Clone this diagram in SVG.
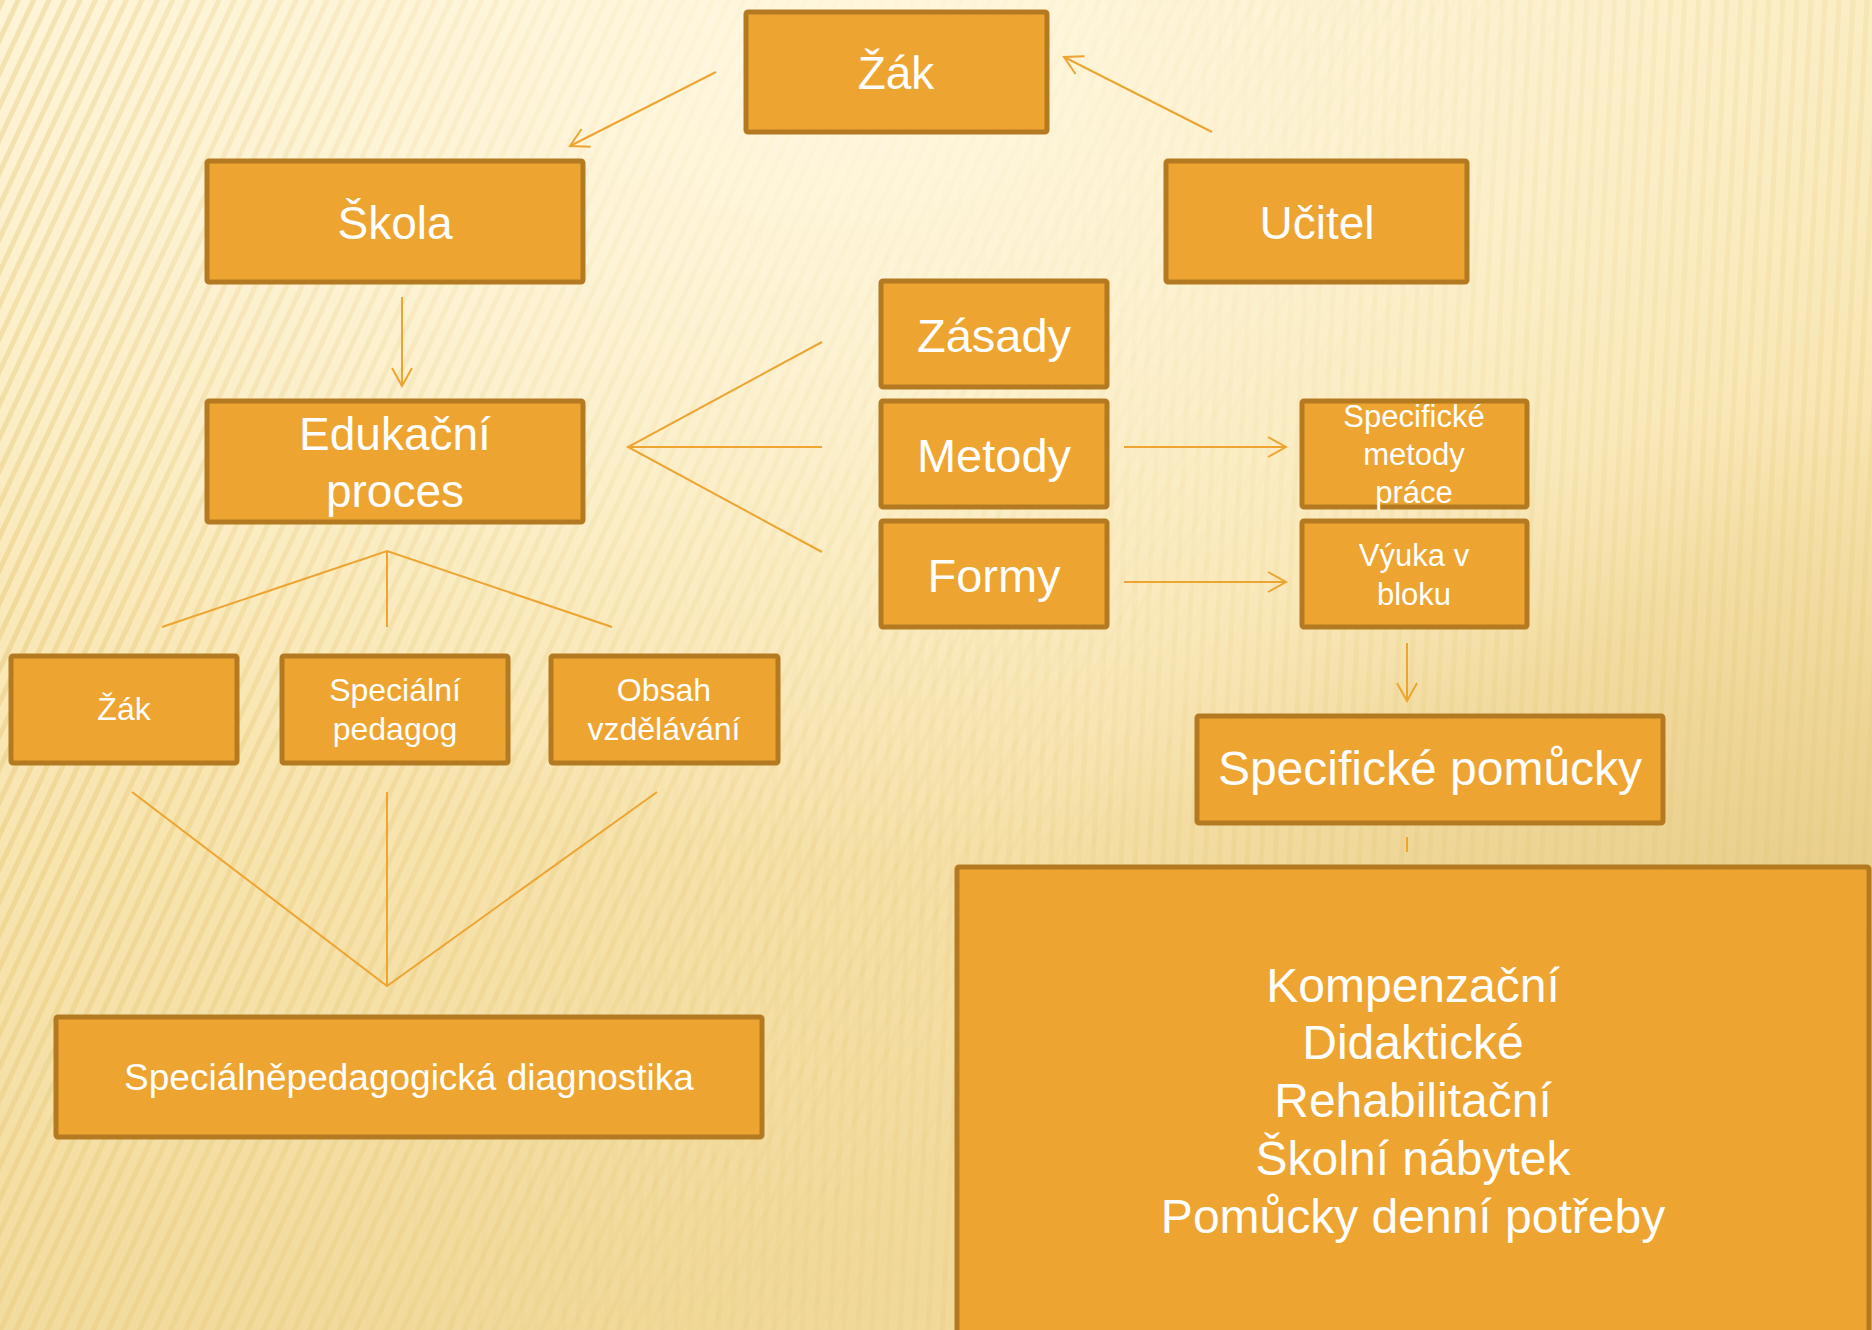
<svg xmlns="http://www.w3.org/2000/svg" width="1872" height="1330" viewBox="0 0 1872 1330">
<defs>
<linearGradient id="bg" x1="0" y1="0" x2="0.3" y2="1">
<stop offset="0" stop-color="#FDF3D2"/>
<stop offset="0.5" stop-color="#F9E7B4"/>
<stop offset="1" stop-color="#F1D99A"/>
</linearGradient>
<radialGradient id="glow" cx="0.45" cy="0.05" r="0.6">
<stop offset="0" stop-color="#FFF8E2" stop-opacity="0.9"/>
<stop offset="1" stop-color="#FFF8E2" stop-opacity="0"/>
</radialGradient>
<radialGradient id="dark" cx="1.05" cy="0.85" r="0.55">
<stop offset="0" stop-color="#DDBE72" stop-opacity="0.7"/>
<stop offset="1" stop-color="#DDBE72" stop-opacity="0"/>
</radialGradient>
<pattern id="stripesL" width="14" height="40" patternUnits="userSpaceOnUse" patternTransform="rotate(25)">
<rect x="0" y="0" width="5" height="40" fill="#E0BE66" opacity="0.45"/>
</pattern>
<pattern id="stripesR" width="14" height="40" patternUnits="userSpaceOnUse" patternTransform="rotate(3)">
<rect x="0" y="0" width="5" height="40" fill="#E2C26E" opacity="0.3"/>
</pattern>
<linearGradient id="fadeL" x1="0" y1="0" x2="1" y2="0.4">
<stop offset="0" stop-color="#fff" stop-opacity="1"/>
<stop offset="0.55" stop-color="#fff" stop-opacity="0.35"/>
<stop offset="0.75" stop-color="#fff" stop-opacity="0"/>
</linearGradient>
<linearGradient id="fadeR" x1="0" y1="0" x2="1" y2="0.3">
<stop offset="0.4" stop-color="#fff" stop-opacity="0"/>
<stop offset="0.8" stop-color="#fff" stop-opacity="0.6"/>
</linearGradient>
<mask id="mL"><rect width="1872" height="1330" fill="url(#fadeL)"/></mask>
<mask id="mR"><rect width="1872" height="1330" fill="url(#fadeR)"/></mask>
<marker id="arr" viewBox="0 0 22 22" refX="20" refY="11" markerWidth="22" markerHeight="22" markerUnits="userSpaceOnUse" orient="auto">
<path d="M2,1 L20,11 L2,21" fill="none" stroke="#EEA430" stroke-width="2"/>
</marker>
<style>
.box{fill:#EEA430;stroke:#B47A22;stroke-width:5}
.t{font-family:"Liberation Sans",Arial,sans-serif;fill:#FFFFFF;text-anchor:middle}
.c{stroke:#EEA430;stroke-width:2;fill:none}
</style>
</defs>
<rect width="1872" height="1330" fill="url(#bg)"/>
<rect width="1872" height="1330" fill="url(#stripesL)" mask="url(#mL)"/>
<rect width="1872" height="1330" fill="url(#stripesR)" mask="url(#mR)"/>
<rect width="1872" height="1330" fill="url(#dark)"/>
<rect width="1872" height="1330" fill="url(#glow)"/>

<g id="connectors">
<line class="c" x1="716" y1="72" x2="570" y2="146" marker-end="url(#arr)"/>
<line class="c" x1="1212" y1="132" x2="1064" y2="57" marker-end="url(#arr)"/>
<line class="c" x1="402" y1="297" x2="402" y2="386" marker-end="url(#arr)"/>
<polyline class="c" points="822,342 628,447 822,552"/>
<line class="c" x1="628" y1="447" x2="822" y2="447"/>
<line class="c" x1="1124" y1="447" x2="1286" y2="447" marker-end="url(#arr)"/>
<line class="c" x1="1124" y1="582" x2="1286" y2="582" marker-end="url(#arr)"/>
<polyline class="c" points="162,627 387,551 612,627"/>
<line class="c" x1="387" y1="551" x2="387" y2="627"/>
<polyline class="c" points="132,792 387,986 657,792"/>
<line class="c" x1="387" y1="792" x2="387" y2="986"/>
<line class="c" x1="1407" y1="643" x2="1407" y2="701" marker-end="url(#arr)"/>
<line class="c" x1="1407" y1="837" x2="1407" y2="852"/>
</g>

<g id="zak-top"><rect class="box" x="746" y="12" width="301" height="120" rx="2"/><text class="t" x="896" y="89" font-size="46">Žák</text></g>
<g id="skola"><rect class="box" x="207" y="161" width="376" height="121" rx="2"/><text class="t" x="395" y="239" font-size="46">Škola</text></g>
<g id="ucitel"><rect class="box" x="1166" y="161" width="301" height="121" rx="2"/><text class="t" x="1317" y="239" font-size="46">Učitel</text></g>
<g id="edukacni"><rect class="box" x="207" y="401" width="376" height="121" rx="2"/><text class="t" x="395" y="450" font-size="46">Edukační</text><text class="t" x="395" y="507" font-size="46">proces</text></g>
<g id="zasady"><rect class="box" x="881" y="281" width="226" height="106" rx="2"/><text class="t" x="994" y="352" font-size="47">Zásady</text></g>
<g id="metody"><rect class="box" x="881" y="401" width="226" height="106" rx="2"/><text class="t" x="994" y="472" font-size="47">Metody</text></g>
<g id="formy"><rect class="box" x="881" y="521" width="226" height="106" rx="2"/><text class="t" x="994" y="592" font-size="47">Formy</text></g>
<g id="spec-metody"><rect class="box" x="1302" y="401" width="225" height="106" rx="2"/><text class="t" x="1414" y="427" font-size="31">Specifické</text><text class="t" x="1414" y="465" font-size="31">metody</text><text class="t" x="1414" y="503" font-size="31">práce</text></g>
<g id="vyuka"><rect class="box" x="1302" y="521" width="225" height="106" rx="2"/><text class="t" x="1414" y="566" font-size="31">Výuka v</text><text class="t" x="1414" y="605" font-size="31">bloku</text></g>
<g id="zak-small"><rect class="box" x="11" y="656" width="226" height="107" rx="2"/><text class="t" x="124" y="720" font-size="32">Žák</text></g>
<g id="spec-pedagog"><rect class="box" x="282" y="656" width="226" height="107" rx="2"/><text class="t" x="395" y="701" font-size="32">Speciální</text><text class="t" x="395" y="740" font-size="32">pedagog</text></g>
<g id="obsah"><rect class="box" x="551" y="656" width="227" height="107" rx="2"/><text class="t" x="664" y="701" font-size="32">Obsah</text><text class="t" x="664" y="740" font-size="32">vzdělávání</text></g>
<g id="diagnostika"><rect class="box" x="56" y="1017" width="706" height="120" rx="2"/><text class="t" x="409" y="1090" font-size="37">Speciálněpedagogická diagnostika</text></g>
<g id="spec-pomucky"><rect class="box" x="1197" y="716" width="466" height="107" rx="2"/><text class="t" x="1430" y="785" font-size="48">Specifické pomůcky</text></g>
<g id="pomucky-list"><rect class="box" x="957" y="867" width="912" height="480" rx="2"/>
<text class="t" x="1413" y="1002" font-size="48">Kompenzační</text>
<text class="t" x="1413" y="1059" font-size="48">Didaktické</text>
<text class="t" x="1413" y="1117" font-size="48">Rehabilitační</text>
<text class="t" x="1413" y="1175" font-size="48">Školní nábytek</text>
<text class="t" x="1413" y="1233" font-size="48">Pomůcky denní potřeby</text>
</g>
</svg>
